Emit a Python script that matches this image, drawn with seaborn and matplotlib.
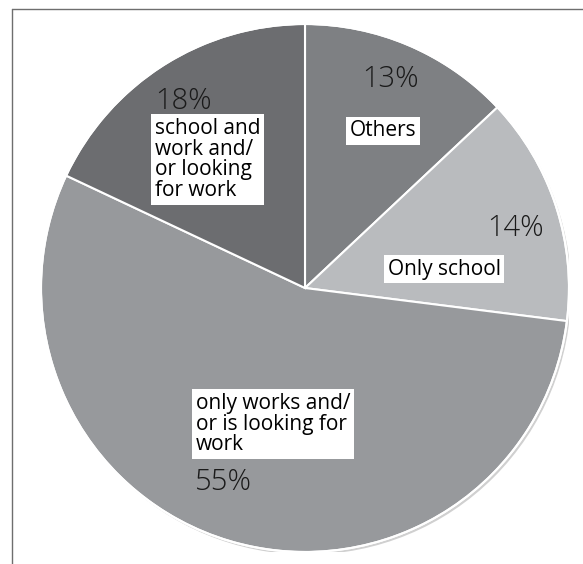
import matplotlib
matplotlib.use("Agg")
import matplotlib.pyplot as plt
import seaborn as sns
from matplotlib.lines import Line2D
from matplotlib.patches import Circle

sns.set_theme(style="white")
plt.rcParams['font.family'] = ['Open Sans', 'DejaVu Sans']

categories = ["Others", "Only school", "only works and/\nor is looking for\nwork",
              "school and\nwork and/\nor looking\nfor work"]
values = [13, 14, 55, 18]
pct_labels = ["13%", "14%", "55%", "18%"]
colors = ["#7e8083", "#b9bbbe", "#97999c", "#6c6d70"]

W, H = 583, 564
fig = plt.figure(figsize=(W / 100, H / 100), dpi=100)
cx, cy, R = 305, 288, 264
ax = fig.add_axes([(cx - R) / W, (H - cy - R) / H, 2 * R / W, 2 * R / H])

# subtle shadow
ax.add_patch(Circle((0.008, -0.01), 1.0, color="#d0d0d0", zorder=0, lw=0))
ax.pie(values, colors=colors, startangle=90, counterclock=False, radius=1,
       wedgeprops=dict(edgecolor="white", linewidth=1.5))
ax.add_patch(Circle((0, 0), 1.0, fill=False, edgecolor="white", lw=1.5, zorder=5))
ax.set_xlim(-1, 1)
ax.set_ylim(-1, 1)
ax.set_aspect('equal')
ax.axis('off')

def to_data(px, py):
    return (px - cx) / R, (cy - py) / R

pct_pos = [(391, 79), (516, 228), (223, 482), (184, 101)]
for txt, (px, py) in zip(pct_labels, pct_pos):
    x, y = to_data(px, py)
    ax.text(x, y, txt, ha='center', va='center', fontsize=21, fontweight='light',
            color="#1a1a1a", zorder=10)

fs = 15
box = dict(facecolor='white', edgecolor='none', pad=2.5)
x, y = to_data(383, 131)
ax.text(x, y, categories[0], ha='center', va='center', fontsize=fs, color='black', bbox=box, zorder=10)
x, y = to_data(444, 269)
ax.text(x, y, categories[1], ha='center', va='center', fontsize=fs, color='black', bbox=box, zorder=10)
x, y = to_data(196, 393)
ax.text(x, y, categories[2], ha='left', va='top', fontsize=fs, color='black', bbox=box,
        linespacing=0.98, zorder=10)
x, y = to_data(155, 118)
ax.text(x, y, categories[3], ha='left', va='top', fontsize=fs, color='black', bbox=box,
        linespacing=0.98, zorder=10)

# frame lines (top and left)
fig.add_artist(Line2D([12 / W, 1], [1 - 9 / H, 1 - 9 / H], transform=fig.transFigure,
                      color="#6e6e6e", lw=1))
fig.add_artist(Line2D([12 / W, 12 / W], [0, 1 - 9 / H], transform=fig.transFigure,
                      color="#6e6e6e", lw=1))

fig.savefig("out.png", dpi=100, facecolor='white')
